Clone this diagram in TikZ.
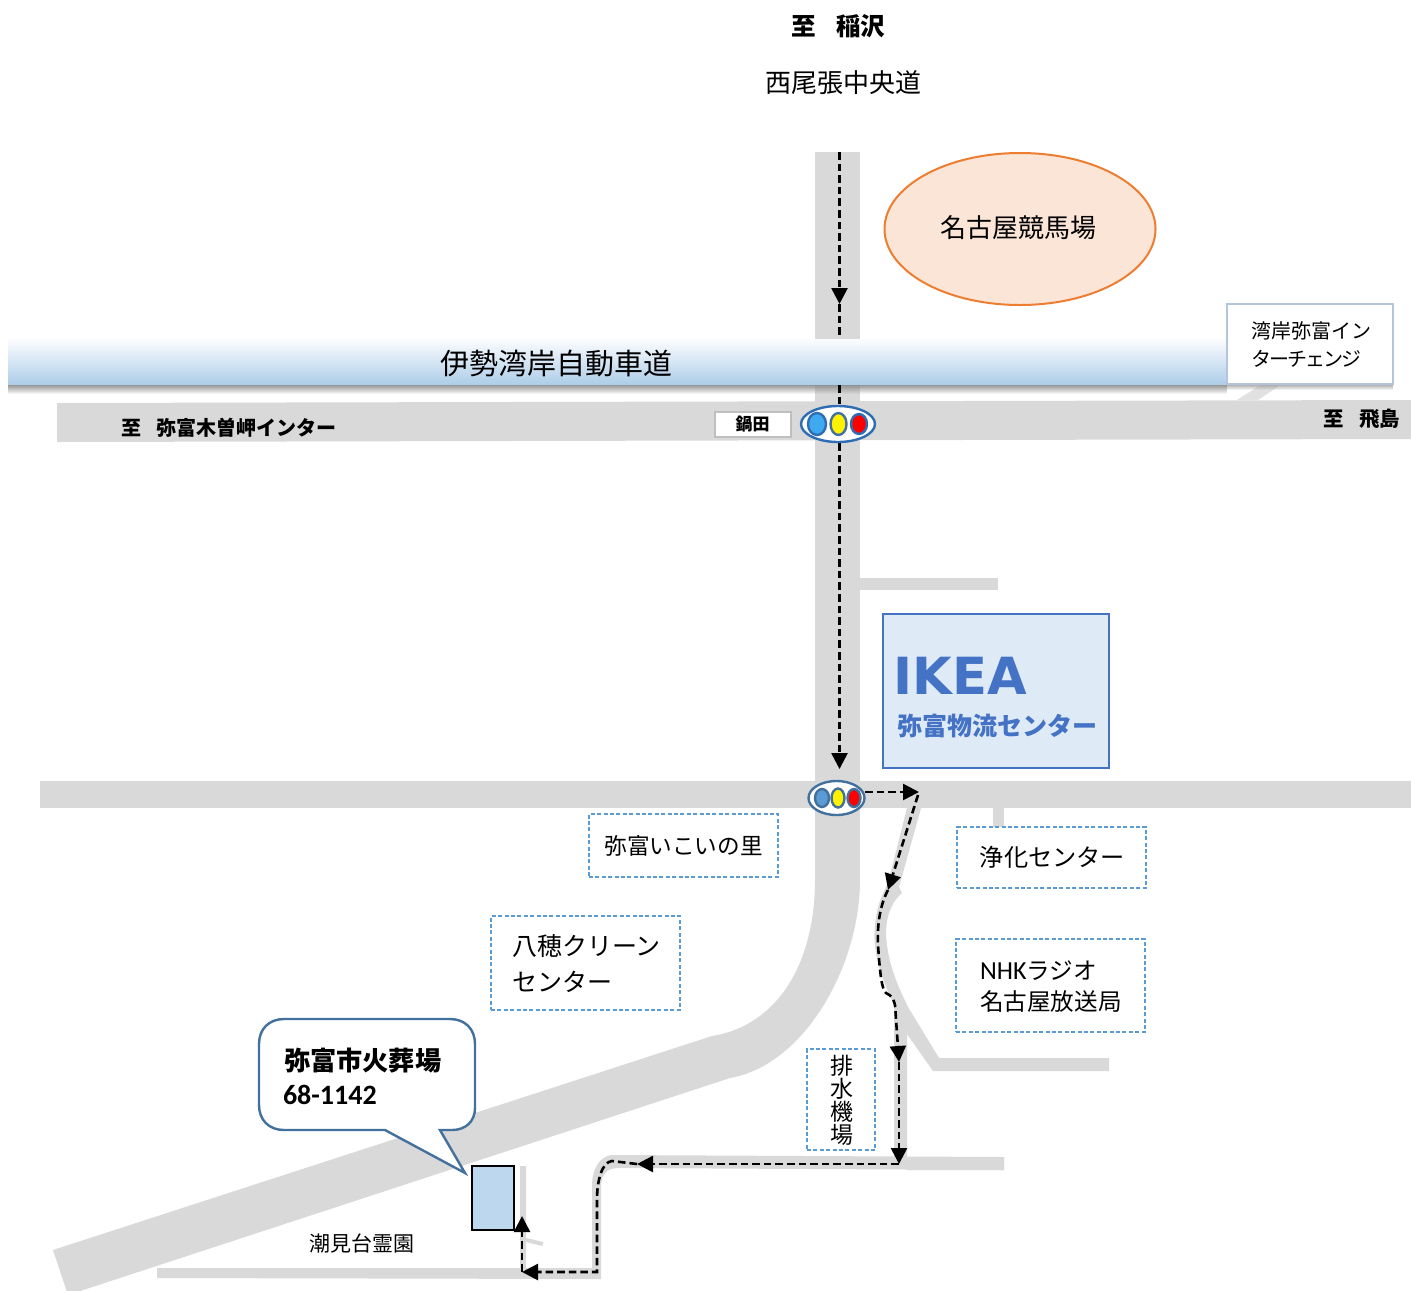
\documentclass[tikz,border=0pt]{standalone}
\usepackage{fontspec}
\setmainfont{Noto Sans CJK JP}
\newfontfamily\latinfont{Carlito}
\newfontfamily\ikeafont{DejaVu Sans}
\usetikzlibrary{arrows.meta,fadings,shapes.geometric}
\newcommand{\fsz}[1]{\fontsize{#1}{#1}\selectfont}
\definecolor{roadgray}{HTML}{D9D9D9}
\definecolor{dashblue}{HTML}{5B9BD5}
\definecolor{ringblue}{HTML}{2E6DB4}
\definecolor{darkring}{HTML}{41719C}
\definecolor{ikeablue}{HTML}{4472C4}
\tikzset{
  road/.style={fill=roadgray,draw=none},
  thinroad/.style={draw=roadgray,line cap=butt},
  route/.style={draw=black,line width=1.3pt,dash pattern=on 3.8pt off 2pt},
  routearrow/.style={route,-{Triangle[length=8pt,width=8pt,sep=0pt]}},
  dashbox/.style={draw=dashblue,line width=0.8pt,dash pattern=on 2pt off 1.2pt,fill=white},
  label/.style={inner sep=0pt,outer sep=0pt,text=black},
  lamp/.style={ellipse,inner sep=0pt,line width=1.2pt,draw=ringblue},
}
\begin{document}
\begin{tikzpicture}[x=0.5pt,y=-0.5pt]
\clip (0,0) rectangle (1411,1290);
\fill[white] (0,0) rectangle (1411,1290);

% roads
\fill[road] (815,152) rectangle (860,880);
\fill[road] (57,403) -- (1411,400) -- (1411,439) -- (57,442) -- cycle;
\fill[road] (40,781) rectangle (1411,808);
\fill[road] (860,578) rectangle (998,590);
\fill[road] (993,808) rectangle (1004,828);
\fill[road] (815,880) .. controls (815,960) and (780,1025) .. (712,1036)
  -- (53,1250) -- (68,1295) -- (730,1078)
  .. controls (805,1065) and (860,965) .. (860,880) -- cycle;
\fill[road] (907,808) -- (921,808) -- (899,887) -- (902,893)
  .. controls (888,905) and (884,925) .. (887,945)
  .. controls (890,970) and (900,990) .. (908,1007)
  -- (939,1058) -- (1109,1058) -- (1109,1071) -- (933,1071) -- (907,1034)
  -- (907,1170) -- (1004,1170) -- (1004,1157) -- (907,1157) -- (894,1157)
  -- (894,1005) .. controls (880,975) and (872,950) .. (875,925)
  .. controls (877,905) and (882,895) .. (888,883) -- cycle;
\fill[road] (1004,1157) -- (612,1155)
  .. controls (600,1156) and (593,1168) .. (592,1183)
  -- (592,1268) -- (157,1268) -- (157,1278) -- (601,1279) -- (601,1190)
  .. controls (601,1175) and (605,1168) .. (619,1168) -- (1004,1170) -- cycle;
\fill[road] (520,1166) rectangle (526,1270);
\draw[thinroad,line width=2pt] (526,1240) -- (543,1244);
\fill[roadgray!80] (1237,400) -- (1262,384) -- (1282,384) -- (1258,400) -- cycle;

% band shadow
\fill[black!45,path fading=south] (8,384) rectangle (1227,394);
\fill[black!35,path fading=south] (1227,384) rectangle (1393,390);

% route coordinates
\coordinate (r0) at (839.5,152);
\coordinate (r1) at (839.5,304);
\coordinate (r2) at (839.5,769);
\coordinate (r3) at (865,792);
\coordinate (r4) at (919,792);
\coordinate (r5) at (918,795);
\coordinate (r6) at (888,890);
\coordinate (r7) at (899,1062);
\coordinate (r8) at (899,1164);
\coordinate (r9) at (637,1164);
\coordinate (r10) at (597,1272);
\coordinate (r11) at (522,1272);
\coordinate (r12) at (522,1216);

\draw[routearrow] (r0) -- (r1);
\draw[routearrow] (r1) -- (r2);
\draw[routearrow] (r3) -- (r4);
\draw[routearrow] (r5) -- (r6);
\draw[routearrow] (r6) .. controls (880,905) and (877,925) .. (878,945)
  .. controls (880,975) and (882,990) .. (886,993)
  .. controls (892,996) and (893,998) .. (895,1005) -- (r7);
\draw[routearrow] (r7) -- (r8);
\draw[routearrow] (r8) -- (r9);
\draw[routearrow] (r9) -- (612,1161) .. controls (602,1162) and (597,1180) .. (597,1200) -- (r10) -- (r11);
\draw[routearrow] (r11) -- (r12);

% expressway band
\shade[top color=blue!1!white,bottom color={rgb,255:red,174;green,206;blue,232}] (8,339) rectangle (1227,384);
\node[label,font=\fsz{14.5}] (expressway) at (556,364) {伊勢湾岸自動車道};
\node[draw={rgb,255:red,180;green,196;blue,220},line width=0.8pt,fill=white,minimum width=83pt,minimum height=40pt,inner sep=0pt] (icbox) at (1310,344) {};
\node[label,font=\fsz{10},align=left,anchor=west] (ictext) at (1251,344.5) {湾岸弥富イン\\[4pt]{\addfontfeature{LetterSpace=-10}ターチェンジ}};

% traffic lights
\node[ellipse,draw=ringblue,fill=white,line width=1.2pt,minimum width=37pt,minimum height=18pt,inner sep=0pt] (light1) at (838,424) {};
\node[lamp,fill={rgb,255:red,63;green,169;blue,240},minimum width=9pt,minimum height=11pt] (l1a) at (817,424) {};
\node[lamp,fill=yellow,draw=darkring,minimum width=8pt,minimum height=11pt] (l1b) at (838.5,424) {};
\node[lamp,fill=red,minimum width=8pt,minimum height=10pt] (l1c) at (859,424) {};
\node[ellipse,draw=darkring,fill=white,line width=1.2pt,minimum width=28pt,minimum height=17pt,inner sep=0pt] (light2) at (836.5,798) {};
\node[lamp,fill=dashblue,draw=darkring,minimum width=7pt,minimum height=9pt] (l2a) at (822,798) {};
\node[lamp,fill=yellow,draw=darkring,minimum width=6.5pt,minimum height=9.5pt] (l2b) at (838,798) {};
\node[lamp,fill=red,draw=darkring,minimum width=6.5pt,minimum height=9pt] (l2c) at (854,798) {};

% road labels
\node[label,font=\bfseries\fsz{12.3}] (inazawa) at (838.5,26) {至\hspace{0.8em}稲沢};
\node[label,font=\fsz{13}] (nishio) at (843,83) {西尾張中央道};
\node[label,font=\bfseries\fsz{10},anchor=west] (kisosaki) at (121,428) {至\hspace{0.75em}弥富木曽岬インター};
\node[label,font=\bfseries\fsz{10.2},anchor=east] (tobishima) at (1400,419) {至\hspace{0.75em}飛島};
\node[draw=black!25,line width=1pt,fill=white,minimum width=38pt,minimum height=12.5pt,inner sep=0pt,font=\bfseries\fsz{8.5}] (nabeta) at (752.5,424) {鍋田};

% landmarks
\node[ellipse,draw={rgb,255:red,237;green,125;blue,49},line width=1pt,fill={rgb,255:red,251;green,229;blue,214},minimum width=135.5pt,minimum height=76pt,inner sep=0pt] (raceoutline) at (1020,229) {};
\node[label,font=\fsz{13}] (racecourse) at (1018,228) {名古屋競馬場};

\node[draw=ikeablue,line width=0.8pt,fill={rgb,255:red,222;green,234;blue,246},minimum width=113pt,minimum height=77pt,inner sep=0pt] (ikeabox) at (996,691) {};
\node[label,text=ikeablue,font=\ikeafont\bfseries\fsz{25.6},anchor=west] (ikea) at (893.5,676) {IKEA};
\node[label,text=ikeablue,font=\bfseries\fsz{12.5},anchor=west] (ikeasub) at (897,726) {弥富物流センター};

\node[dashbox,minimum width=94.5pt,minimum height=31.5pt,inner sep=0pt,font=\fsz{11.3}] (ikoi) at (683.5,845.5) {\raisebox{0.5pt}{弥富いこいの里}};
\node[dashbox,minimum width=94.5pt,minimum height=30.5pt,inner sep=0pt] (jokabox) at (1051.5,857.5) {};
\node[label,font=\fsz{12.1}] (joka) at (1052.5,857.5) {浄化センター};
\node[dashbox,minimum width=94.5pt,minimum height=46.5pt,inner sep=0pt] (nhkbox) at (1050.5,985.5) {};
\node[label,font=\fsz{11.8},anchor=west,align=left] (nhk) at (980,986.5) {{\latinfont\fsz{13}NHK}ラジオ\\[3.3pt]名古屋放送局};
\node[dashbox,minimum width=94.5pt,minimum height=47pt,inner sep=0pt] (yahobox) at (585.5,963) {};
\node[label,font=\fsz{12.5},anchor=west,align=left] (yaho) at (512,963.5) {八穂クリーン\\[5.5pt]センター};
\node[dashbox,minimum width=34pt,minimum height=50.5pt,inner sep=0pt] (haisuibox) at (841,1099.5) {};
\node[label,font=\fsz{11.5},align=center] (haisui) at (841.5,1100) {排\\水\\機\\場};
\node[label,font=\fsz{10.5}] (shiomi) at (361.5,1243) {潮見台霊園};

% crematorium and callout
\node[draw=black,line width=1pt,fill={rgb,255:red,189;green,215;blue,238},minimum width=21pt,minimum height=32pt,inner sep=0pt] (site) at (493,1198) {};
\coordinate (tailtip) at (465,1173);
\draw[draw=darkring,line width=1.2pt,fill=white,line join=miter]
  (284,1019) -- (450,1019) .. controls (465,1019) and (475,1029) .. (475,1044)
  -- (475,1108) .. controls (475,1122) and (465,1130) .. (452,1130)
  -- (440,1130) -- (tailtip) -- (385,1130) -- (284,1130)
  .. controls (269,1130) and (259,1120) .. (259,1105)
  -- (259,1044) .. controls (259,1029) and (269,1019) .. (284,1019) -- cycle;
\node[label,font=\bfseries\fsz{13.1},anchor=west] (cname) at (284,1061) {弥富市火葬場};
\node[label,font=\latinfont\bfseries\fsz{14},anchor=west] (ctel) at (283,1095) {68-1142};
\end{tikzpicture}
\end{document}
